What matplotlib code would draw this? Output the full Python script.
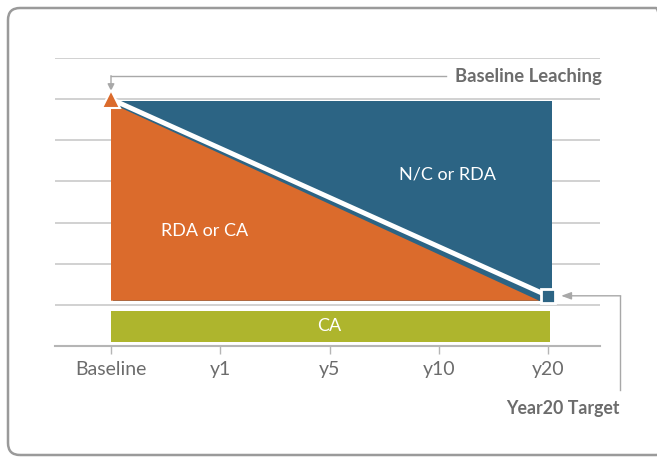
import matplotlib
matplotlib.use("Agg")
import matplotlib.pyplot as plt
from matplotlib.patches import FancyBboxPatch, Rectangle, Polygon
from matplotlib.transforms import IdentityTransform

# periods on the x axis
periods = ['Baseline', 'y1', 'y5', 'y10', 'y20']
period_pos = [0, 1, 2, 3, 4]

# leaching levels (grid units)
baseline_leaching = 6.0
year20_target = 1.22
band_top = 5.95
band_bottom = 1.1
ca_bottom = 0.1
ca_top = 0.85
grid_levels = [1, 2, 3, 4, 5, 6, 7]

blue = '#2c6484'
orange = '#db6b2c'
green = '#aeb52d'
txt_gray = '#6c6c6c'
grid_gray = '#c9c9c9'
arrow_gray = '#a8a8a8'

plt.rcParams['font.family'] = ['Lato', 'DejaVu Sans']

fig = plt.figure(figsize=(6.57, 4.59), dpi=100)
W, H = 657, 459
ax = fig.add_axes([55 / W, (H - 346) / H, (600 - 55) / W, (346 - 58) / H])
ax.set_xlim((55 - 111) / 109.25, (600 - 111) / 109.25)
ax.set_ylim(0, 7)

# frame around everything
frame = FancyBboxPatch((8, 4), 660, 447, boxstyle='round,pad=0,rounding_size=12',
                       transform=IdentityTransform(), fill=False,
                       edgecolor='#9a9a9a', linewidth=1.8)
fig.patches.append(frame)

for g in grid_levels:
    ax.axhline(g, color=grid_gray, lw=1.2, zorder=0)

for s in ['top', 'right', 'left']:
    ax.spines[s].set_visible(False)
ax.spines['bottom'].set_color('#b5b5b5')
ax.spines['bottom'].set_linewidth(1.5)
ax.set_yticks([])
ax.set_xticks(period_pos)
ax.set_xticklabels(periods, fontsize=14, color=txt_gray)
ax.tick_params(axis='x', length=6, width=1, color='#b5b5b5', pad=5)

x0, x1 = period_pos[0], period_pos[-1]
# blue area (N/C or RDA)
ax.add_patch(Rectangle((x0 + 0.02, band_bottom), x1 + 0.02 - x0, band_top - band_bottom,
                       facecolor=blue, edgecolor='none', zorder=2))
# orange area (RDA or CA)
ax.add_patch(Polygon([(x0, band_bottom), (x0, baseline_leaching - 0.1), (x1 - 0.08, band_bottom)],
                     closed=True, facecolor=orange, edgecolor='none', zorder=3))
# white separator
ax.plot([x0, x1], [baseline_leaching, year20_target], color='white', lw=3.5, zorder=4,
        solid_capstyle='butt')
# CA band
ax.add_patch(Rectangle((x0, ca_bottom), x1 + 0.02 - x0, ca_top - ca_bottom,
                       facecolor=green, edgecolor='none', zorder=2))

# markers
ax.plot([x0], [baseline_leaching], marker='^', ms=13, color=orange, mec='white', mew=1.5,
        zorder=6, clip_on=False)
ax.plot([x1], [year20_target], marker='s', ms=10, color=blue, mec='white', mew=2,
        zorder=6, clip_on=False)

ax.text(0.86, 2.8, 'RDA or CA', color='white', fontsize=13, ha='center', va='center', zorder=7)
ax.text(3.08, 4.17, 'N/C or RDA', color='white', fontsize=13, ha='center', va='center', zorder=7)
ax.text(2.0, (ca_bottom + ca_top) / 2, 'CA', color='white', fontsize=13, ha='center',
        va='center', zorder=7)

# Baseline Leaching callout
ax.text(4.49, 6.56, 'Baseline Leaching', color=txt_gray, fontsize=13.3, fontweight='bold',
        ha='right', va='center', clip_on=False)
ax.plot([x0, 3.07], [6.56, 6.56], color=arrow_gray, lw=1, clip_on=False)
ax.annotate('', xy=(x0, 6.2), xytext=(x0, 6.57),
            arrowprops=dict(arrowstyle='-|>,head_length=0.4,head_width=0.2', color=arrow_gray,
                            lw=1, shrinkA=0, shrinkB=0), annotation_clip=False)

# Year20 Target callout
ax.plot([4.66, 4.66], [-1.07, year20_target], color=arrow_gray, lw=1, clip_on=False)
ax.annotate('', xy=(4.12, year20_target), xytext=(4.665, year20_target),
            arrowprops=dict(arrowstyle='-|>,head_length=0.6,head_width=0.22', color=arrow_gray,
                            lw=1, shrinkA=0, shrinkB=0), annotation_clip=False)
ax.text(4.66, -1.51, 'Year20 Target', color=txt_gray, fontsize=12.8, fontweight='bold',
        ha='right', va='center', clip_on=False)

fig.savefig('out.png', dpi=100)
